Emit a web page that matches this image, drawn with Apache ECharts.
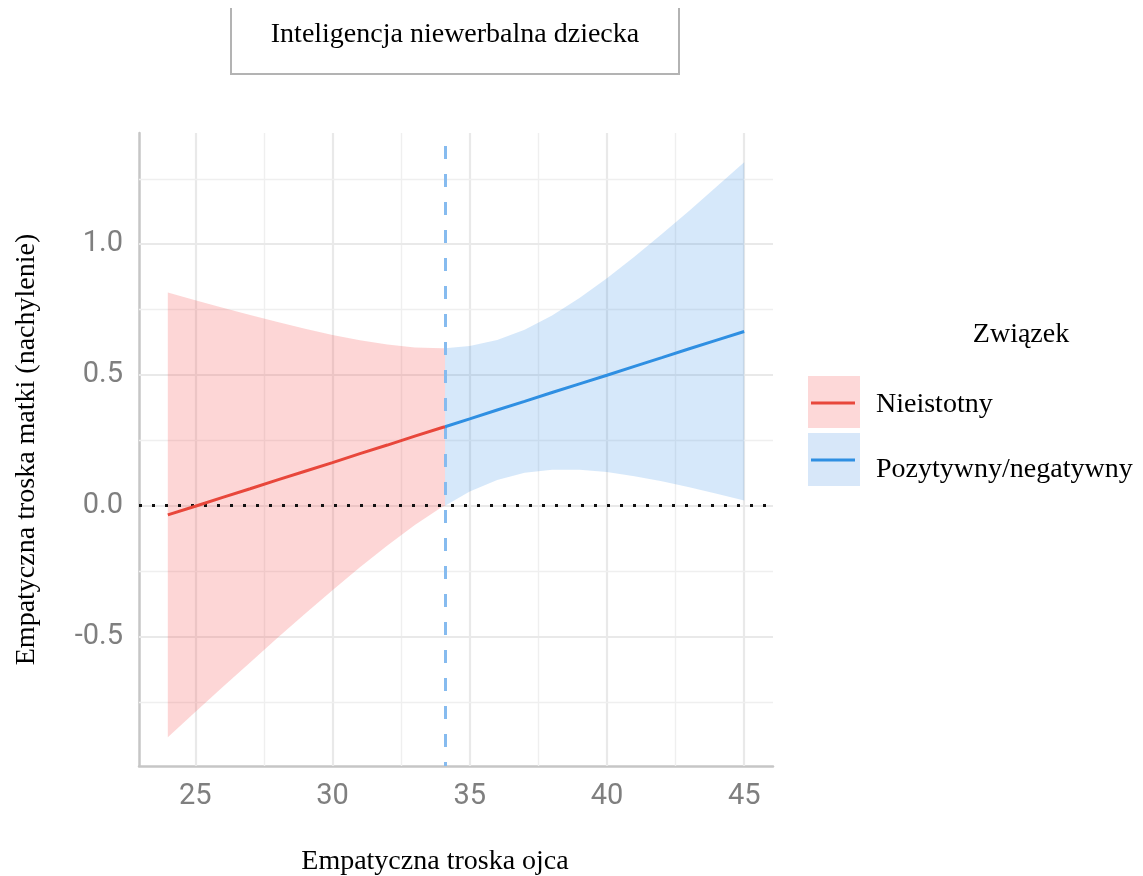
<!DOCTYPE html>
<html>
<head>
<meta charset="utf-8">
<script src="https://cdn.jsdelivr.net/npm/echarts@6/dist/echarts.min.js"></script>
<style>
  html, body { margin: 0; padding: 0; background: #ffffff; }
  #chart { width: 1143px; height: 876px; }
</style>
</head>
<body>
<div id="chart"></div>
<script>
// Simple slope of mother's empathic concern across father's empathic concern,
// with a 95% confidence band split at the Johnson–Neyman point.

// Non-significant region
const xRed    = [24, 25, 26, 27, 28, 29, 30, 31, 32, 33, 34, 34.1];
const redFit  = [-0.035, -0.002, 0.032, 0.065, 0.099, 0.132, 0.165, 0.199, 0.232, 0.266, 0.299, 0.302];
const redLow  = [-0.885, -0.789, -0.693, -0.599, -0.505, -0.413, -0.323, -0.235, -0.152, -0.074, -0.004, 0.000];
const redHigh = [0.815, 0.786, 0.757, 0.729, 0.702, 0.677, 0.653, 0.633, 0.616, 0.605, 0.602, 0.602];

// Significant (positive) region
const xBlue    = [34.1, 35, 36, 37, 38, 39, 40, 41, 42, 43, 44, 45];
const blueFit  = [0.302, 0.332, 0.366, 0.399, 0.433, 0.466, 0.499, 0.533, 0.566, 0.600, 0.633, 0.666];
const blueLow  = [0.000, 0.054, 0.098, 0.126, 0.138, 0.138, 0.129, 0.113, 0.094, 0.071, 0.046, 0.020];
const blueHigh = [0.602, 0.611, 0.634, 0.673, 0.727, 0.794, 0.870, 0.952, 1.039, 1.128, 1.220, 1.313];

// Reference lines
const jnPoint = 34.1;
const zeroLine = 0;

// Axis ranges and ticks
const xMin = 22.95, xMax = 46.05;
const yMin = -0.995, yMax = 1.425;
const xTicks = [25, 30, 35, 40, 45];
const xMinorGrid = [27.5, 32.5, 37.5, 42.5];
const yTicks = [-0.5, 0, 0.5, 1.0];
const yMinorGrid = [-0.75, -0.25, 0.25, 0.75, 1.25];

// Legend entries
const legendTitle = 'Związek';
const legendLabels = ['Nieistotny', 'Pozytywny/negatywny'];

const SERIF = '"Liberation Serif", "Times New Roman", serif';
const SANS = 'Roboto, "Liberation Sans", Arial, sans-serif';

const redLine = '#e8473b';
const blueLine = '#2f8fe2';
const redBand = 'rgba(245, 70, 70, 0.22)';
const blueBand = 'rgba(50, 140, 230, 0.20)';

function pairs(xs, ys) { return xs.map((x, i) => [x, ys[i]]); }

function ribbon(name, xs, lo, hi, color) {
  return {
    type: 'custom',
    name: name,
    z: 2,
    silent: true,
    data: [[xs[0], lo[0]]],
    renderItem: function (params, api) {
      const pts = [];
      for (let i = 0; i < xs.length; i++) pts.push(api.coord([xs[i], hi[i]]));
      for (let i = xs.length - 1; i >= 0; i--) pts.push(api.coord([xs[i], lo[i]]));
      return { type: 'polygon', shape: { points: pts }, style: { fill: color } };
    }
  };
}

const gridMajor = { color: '#e9e9e9', width: 2.2, type: 'solid' };
const gridMinor = { color: '#efefef', width: 1.4, type: 'solid' };

const gridLineData = []
  .concat(xTicks.map(v => ({ xAxis: v, lineStyle: gridMajor })))
  .concat(xMinorGrid.map(v => ({ xAxis: v, lineStyle: gridMinor })))
  .concat(yTicks.map(v => ({ yAxis: v, lineStyle: gridMajor })))
  .concat(yMinorGrid.map(v => ({ yAxis: v, lineStyle: gridMinor })));

const chart = echarts.init(document.getElementById('chart'), null, { renderer: 'canvas' });

chart.setOption({
  animation: false,
  backgroundColor: '#ffffff',
  grid: { left: 139, right: 370, top: 133, bottom: 110, containLabel: false, outerBoundsMode: 'none' },
  xAxis: {
    type: 'value',
    min: xMin,
    max: xMax,
    splitLine: { show: false },
    axisTick: { show: false },
    axisLine: { show: true, onZero: false, lineStyle: { color: '#c6c6c6', width: 2.5 } },
    axisLabel: {
      customValues: xTicks,
      formatter: v => (xTicks.indexOf(v) >= 0 ? String(v) : ''),
      color: '#7f7f7f',
      fontSize: 29,
      fontFamily: SANS,
      margin: 16
    }
  },
  yAxis: {
    type: 'value',
    min: yMin,
    max: yMax,
    splitLine: { show: false },
    axisTick: { show: false },
    axisLine: { show: true, onZero: false, lineStyle: { color: '#c6c6c6', width: 2.5 } },
    axisLabel: {
      customValues: yTicks,
      formatter: v => (yTicks.indexOf(v) >= 0 ? v.toFixed(1) : ''),
      color: '#7f7f7f',
      fontSize: 29,
      fontFamily: SANS,
      margin: 16
    },
    name: 'Empatyczna troska matki (nachylenie)',
    nameLocation: 'middle',
    nameRotate: 90,
    nameGap: 98,
    nameTextStyle: { color: '#000000', fontSize: 28, fontFamily: SERIF }
  },
  series: [
    {
      type: 'line',
      name: 'grid',
      data: [],
      z: 1,
      silent: true,
      markLine: {
        z: 1,
        silent: true,
        symbol: ['none', 'none'],
        label: { show: false },
        emphasis: { disabled: true },
        data: gridLineData
      }
    },
    ribbon('Nieistotny pasmo', xRed, redLow, redHigh, redBand),
    ribbon('Pozytywny pasmo', xBlue, blueLow, blueHigh, blueBand),
    {
      type: 'line',
      name: 'reference',
      data: [],
      z: 3,
      silent: true,
      markLine: {
        z: 3,
        silent: true,
        symbol: ['none', 'none'],
        label: { show: false },
        emphasis: { disabled: true },
        data: [
          { yAxis: zeroLine, lineStyle: { color: '#111111', width: 3, type: [3, 10], cap: 'butt', dashOffset: 0 } },
          { xAxis: jnPoint, lineStyle: { color: '#86bbef', width: 3, type: [13, 15], cap: 'butt', dashOffset: 9 } }
        ]
      }
    },
    {
      type: 'line',
      name: legendLabels[0],
      data: pairs(xRed, redFit),
      z: 4,
      showSymbol: false,
      silent: true,
      lineStyle: { color: redLine, width: 3 }
    },
    {
      type: 'line',
      name: legendLabels[1],
      data: pairs(xBlue, blueFit),
      z: 4,
      showSymbol: false,
      silent: true,
      lineStyle: { color: blueLine, width: 3 }
    }
  ],
  graphic: [
    // Facet strip with the moderator name
    {
      type: 'polyline',
      shape: { points: [[231, 8], [231, 74], [679, 74], [679, 8]] },
      style: { stroke: '#b3b3b3', lineWidth: 2, fill: null }
    },
    {
      type: 'text',
      x: 455, y: 35,
      style: { text: 'Inteligencja niewerbalna dziecka', font: '28px ' + SERIF, fill: '#000', align: 'center', verticalAlign: 'middle' }
    },
    // x-axis title
    {
      type: 'text',
      x: 435, y: 862,
      style: { text: 'Empatyczna troska ojca', font: '28px ' + SERIF, fill: '#000', align: 'center', verticalAlign: 'middle' }
    },
    // Legend
    {
      type: 'text',
      x: 1021, y: 335,
      style: { text: legendTitle, font: '28px ' + SERIF, fill: '#000', align: 'center', verticalAlign: 'middle' }
    },
    { type: 'rect', shape: { x: 808, y: 376, width: 52, height: 52 }, style: { fill: '#fdd8d8' } },
    { type: 'line', shape: { x1: 811, y1: 403, x2: 855, y2: 403 }, style: { stroke: redLine, lineWidth: 3 } },
    { type: 'rect', shape: { x: 808, y: 433, width: 52, height: 53 }, style: { fill: '#d7e7f9' } },
    { type: 'line', shape: { x1: 811, y1: 460, x2: 855, y2: 460 }, style: { stroke: blueLine, lineWidth: 3 } },
    {
      type: 'text',
      x: 876, y: 405,
      style: { text: legendLabels[0], font: '28px ' + SERIF, fill: '#000', align: 'left', verticalAlign: 'middle' }
    },
    {
      type: 'text',
      x: 876, y: 470,
      style: { text: legendLabels[1], font: '28px ' + SERIF, fill: '#000', align: 'left', verticalAlign: 'middle' }
    }
  ]
});
</script>
</body>
</html>
